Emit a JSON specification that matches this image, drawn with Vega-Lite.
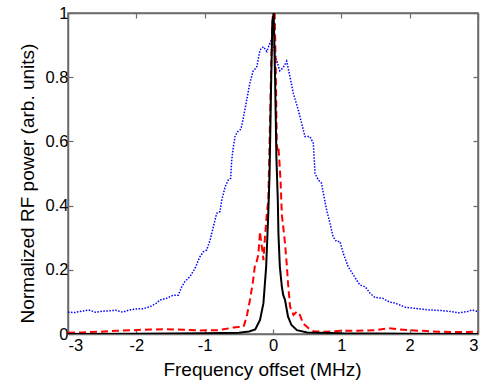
{
  "$schema": "https://vega.github.io/schema/vega-lite/v6.json",
  "width": 410,
  "height": 321,
  "autosize": {"type": "none"},
  "padding": {"left": 68, "top": 13, "right": 6, "bottom": 51},
  "background": "white",
  "config": {
    "view": {"stroke": "#6b6b6b", "strokeWidth": 1.5},
    "axis": {
      "labelFont": "Liberation Sans", "titleFont": "Liberation Sans",
      "labelFontSize": 16.5, "titleFontSize": 19, "titleFontWeight": "normal",
      "labelColor": "#000", "titleColor": "#000",
      "domainColor": "#6b6b6b", "domainWidth": 1.5,
      "tickColor": "#6b6b6b", "tickSize": -5, "tickWidth": 1.2, "grid": false
    }
  },
  "datasets": {
    "blue": [
      {"x": -3.0, "y": 0.068}, {"x": -2.9, "y": 0.067}, {"x": -2.8, "y": 0.071}, {"x": -2.7, "y": 0.075},
      {"x": -2.6, "y": 0.068}, {"x": -2.5, "y": 0.071}, {"x": -2.4, "y": 0.072}, {"x": -2.3, "y": 0.074},
      {"x": -2.2, "y": 0.068}, {"x": -2.1, "y": 0.075}, {"x": -2.0, "y": 0.078}, {"x": -1.9, "y": 0.079},
      {"x": -1.8, "y": 0.085}, {"x": -1.7, "y": 0.097}, {"x": -1.654, "y": 0.106}, {"x": -1.56, "y": 0.111},
      {"x": -1.46, "y": 0.121}, {"x": -1.386, "y": 0.121}, {"x": -1.336, "y": 0.147}, {"x": -1.29, "y": 0.163},
      {"x": -1.215, "y": 0.179}, {"x": -1.14, "y": 0.205}, {"x": -1.068, "y": 0.241}, {"x": -1.02, "y": 0.256},
      {"x": -0.97, "y": 0.262}, {"x": -0.92, "y": 0.293}, {"x": -0.873, "y": 0.334}, {"x": -0.824, "y": 0.376},
      {"x": -0.776, "y": 0.381}, {"x": -0.75, "y": 0.417}, {"x": -0.7, "y": 0.459}, {"x": -0.654, "y": 0.48},
      {"x": -0.62, "y": 0.485}, {"x": -0.604, "y": 0.542}, {"x": -0.58, "y": 0.583}, {"x": -0.556, "y": 0.615},
      {"x": -0.52, "y": 0.63}, {"x": -0.48, "y": 0.636}, {"x": -0.46, "y": 0.646}, {"x": -0.41, "y": 0.7},
      {"x": -0.34, "y": 0.78}, {"x": -0.29, "y": 0.82}, {"x": -0.24, "y": 0.83}, {"x": -0.19, "y": 0.885},
      {"x": -0.14, "y": 0.895}, {"x": -0.09, "y": 0.88}, {"x": -0.04, "y": 0.91}, {"x": -0.02, "y": 0.916},
      {"x": 0.0, "y": 0.9}, {"x": 0.05, "y": 0.855}, {"x": 0.1, "y": 0.82}, {"x": 0.15, "y": 0.83},
      {"x": 0.2, "y": 0.85}, {"x": 0.25, "y": 0.8}, {"x": 0.297, "y": 0.75}, {"x": 0.37, "y": 0.698},
      {"x": 0.395, "y": 0.677}, {"x": 0.468, "y": 0.615}, {"x": 0.54, "y": 0.615}, {"x": 0.59, "y": 0.594},
      {"x": 0.615, "y": 0.5}, {"x": 0.663, "y": 0.48}, {"x": 0.71, "y": 0.47}, {"x": 0.737, "y": 0.438},
      {"x": 0.785, "y": 0.386}, {"x": 0.834, "y": 0.345}, {"x": 0.88, "y": 0.303}, {"x": 0.93, "y": 0.288},
      {"x": 0.98, "y": 0.288}, {"x": 1.03, "y": 0.25}, {"x": 1.1, "y": 0.21}, {"x": 1.175, "y": 0.184},
      {"x": 1.27, "y": 0.153}, {"x": 1.35, "y": 0.147}, {"x": 1.42, "y": 0.127}, {"x": 1.49, "y": 0.114},
      {"x": 1.61, "y": 0.111}, {"x": 1.7, "y": 0.1}, {"x": 1.79, "y": 0.096}, {"x": 1.94, "y": 0.083},
      {"x": 2.08, "y": 0.08}, {"x": 2.28, "y": 0.075}, {"x": 2.47, "y": 0.073}, {"x": 2.6, "y": 0.07},
      {"x": 2.72, "y": 0.066}, {"x": 2.85, "y": 0.07}, {"x": 2.91, "y": 0.075}, {"x": 3.0, "y": 0.07}
    ],
    "red": [
      {"x": -3.0, "y": 0.004}, {"x": -2.8, "y": 0.005}, {"x": -2.53, "y": 0.007}, {"x": -2.3, "y": 0.01},
      {"x": -2.04, "y": 0.012}, {"x": -1.8, "y": 0.014}, {"x": -1.56, "y": 0.015}, {"x": -1.3, "y": 0.013},
      {"x": -1.07, "y": 0.011}, {"x": -0.8, "y": 0.012}, {"x": -0.58, "y": 0.02}, {"x": -0.5, "y": 0.022},
      {"x": -0.43, "y": 0.023}, {"x": -0.385, "y": 0.054}, {"x": -0.337, "y": 0.106}, {"x": -0.297, "y": 0.158},
      {"x": -0.263, "y": 0.215}, {"x": -0.24, "y": 0.225}, {"x": -0.215, "y": 0.246}, {"x": -0.19, "y": 0.319},
      {"x": -0.175, "y": 0.288}, {"x": -0.156, "y": 0.262}, {"x": -0.14, "y": 0.23}, {"x": -0.117, "y": 0.303},
      {"x": -0.09, "y": 0.376}, {"x": -0.068, "y": 0.417}, {"x": -0.05, "y": 0.6}, {"x": -0.03, "y": 0.8},
      {"x": -0.015, "y": 0.94}, {"x": 0.0, "y": 1.0}, {"x": 0.025, "y": 1.0}, {"x": 0.04, "y": 0.83},
      {"x": 0.055, "y": 0.6}, {"x": 0.065, "y": 0.57}, {"x": 0.08, "y": 0.58}, {"x": 0.09, "y": 0.55},
      {"x": 0.11, "y": 0.48}, {"x": 0.13, "y": 0.37}, {"x": 0.15, "y": 0.334}, {"x": 0.176, "y": 0.282},
      {"x": 0.2, "y": 0.22}, {"x": 0.22, "y": 0.158}, {"x": 0.25, "y": 0.085}, {"x": 0.3, "y": 0.059},
      {"x": 0.35, "y": 0.07}, {"x": 0.395, "y": 0.059}, {"x": 0.44, "y": 0.033}, {"x": 0.52, "y": 0.018},
      {"x": 0.6, "y": 0.008}, {"x": 0.77, "y": 0.007}, {"x": 1.0, "y": 0.01}, {"x": 1.25, "y": 0.01},
      {"x": 1.5, "y": 0.012}, {"x": 1.69, "y": 0.018}, {"x": 1.85, "y": 0.014}, {"x": 1.98, "y": 0.012},
      {"x": 2.25, "y": 0.009}, {"x": 2.47, "y": 0.007}, {"x": 2.7, "y": 0.006}, {"x": 2.96, "y": 0.007},
      {"x": 3.0, "y": 0.006}
    ],
    "black": [
      {"x": -3.0, "y": 0.0}, {"x": -2.0, "y": 0.001}, {"x": -1.0, "y": 0.002}, {"x": -0.5, "y": 0.004},
      {"x": -0.35, "y": 0.008}, {"x": -0.26, "y": 0.014}, {"x": -0.19, "y": 0.044}, {"x": -0.14, "y": 0.096},
      {"x": -0.1, "y": 0.21}, {"x": -0.07, "y": 0.37}, {"x": -0.05, "y": 0.5}, {"x": -0.03, "y": 0.75},
      {"x": -0.01, "y": 0.97}, {"x": 0.01, "y": 1.0}, {"x": 0.03, "y": 0.8}, {"x": 0.05, "y": 0.55},
      {"x": 0.07, "y": 0.42}, {"x": 0.08, "y": 0.31}, {"x": 0.1, "y": 0.21}, {"x": 0.13, "y": 0.147},
      {"x": 0.15, "y": 0.121}, {"x": 0.176, "y": 0.106}, {"x": 0.22, "y": 0.054}, {"x": 0.27, "y": 0.028},
      {"x": 0.35, "y": 0.012}, {"x": 0.5, "y": 0.005}, {"x": 1.0, "y": 0.002}, {"x": 2.0, "y": 0.001},
      {"x": 3.0, "y": 0.0}
    ]
  },
  "layer": [
    {
      "data": {"name": "blue"},
      "mark": {"type": "line", "color": "#0000ff", "strokeWidth": 1.5, "strokeDash": [1.5, 1.5], "clip": true},
      "encoding": {
        "x": {"field": "x", "type": "quantitative", "scale": {"domain": [-3, 3], "nice": false},
          "axis": {"orient": "bottom", "values": [-3, -2, -1, 0, 1, 2, 3], "labelExpr": "'' + datum.value",
            "title": "Frequency offset (MHz)", "labelPadding": 8,
            "titleBaseline": "alphabetic", "titleX": 194, "titleY": 41}},
        "y": {"field": "y", "type": "quantitative", "scale": {"domain": [0, 1], "nice": false},
          "axis": {"orient": "left", "values": [0, 0.2, 0.4, 0.6, 0.8, 1], "labelExpr": "'' + datum.value",
            "title": "Normalized RF power (arb. units)", "labelPadding": 5,
            "titleBaseline": "alphabetic", "titleX": -35, "titleY": 170}}
      }
    },
    {
      "data": {"name": "red"},
      "mark": {"type": "line", "color": "#ff0000", "strokeWidth": 2, "strokeDash": [7, 4], "clip": true},
      "encoding": {
        "x": {"field": "x", "type": "quantitative", "axis": null},
        "y": {"field": "y", "type": "quantitative", "axis": null}
      }
    },
    {
      "data": {"name": "black"},
      "mark": {"type": "line", "color": "#000000", "strokeWidth": 2, "clip": true},
      "encoding": {
        "x": {"field": "x", "type": "quantitative", "axis": null},
        "y": {"field": "y", "type": "quantitative", "axis": null}
      }
    },
    {
      "data": {"name": "black"},
      "mark": {"type": "line", "opacity": 0},
      "encoding": {
        "x": {"field": "x", "type": "quantitative",
          "axis": {"orient": "top", "values": [-3, -2, -1, 0, 1, 2, 3], "labels": false, "title": null}},
        "y": {"field": "y", "type": "quantitative",
          "axis": {"orient": "right", "values": [0, 0.2, 0.4, 0.6, 0.8, 1], "labels": false, "title": null}}
      }
    }
  ],
  "resolve": {"axis": {"x": "independent", "y": "independent"}}
}
